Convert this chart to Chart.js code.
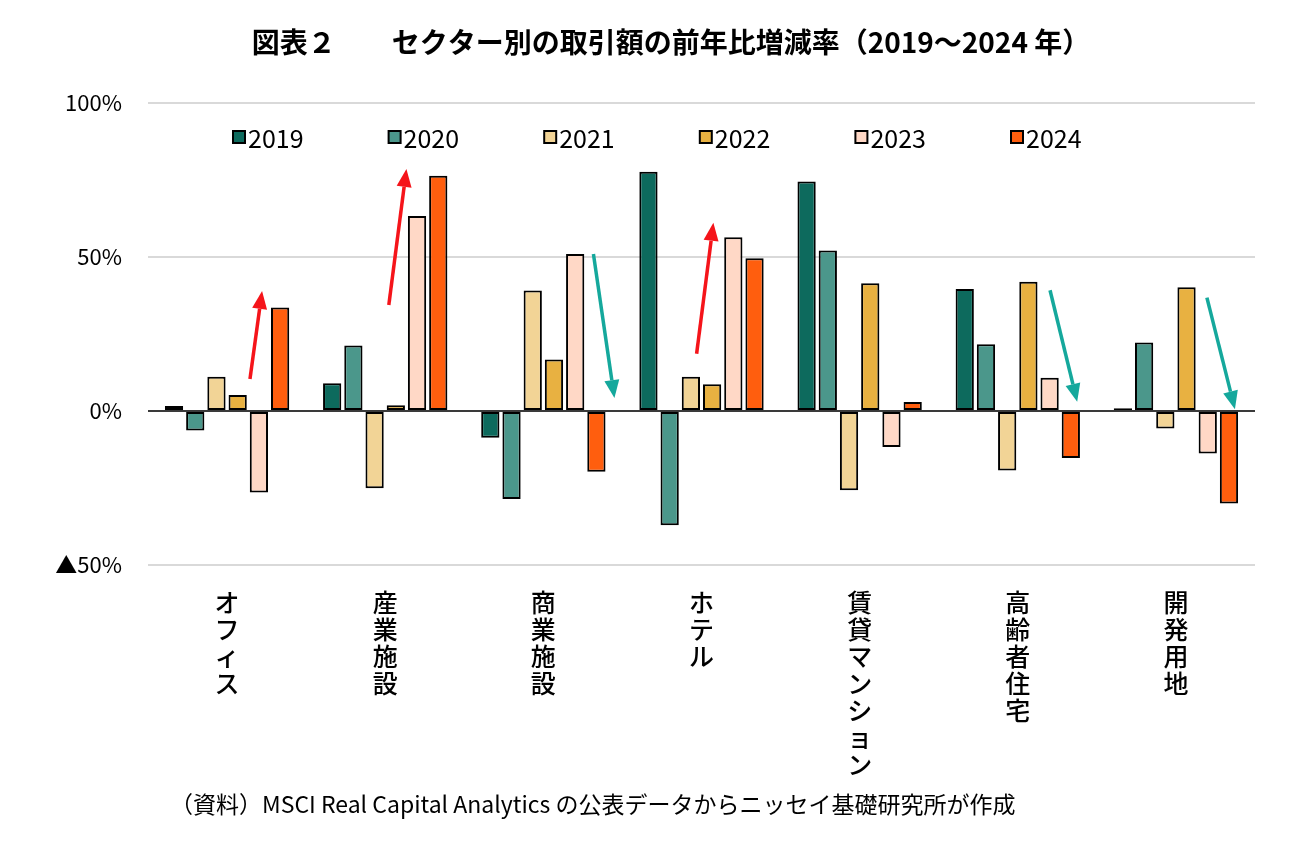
<!DOCTYPE html>
<html>
<head>
<meta charset="utf-8">
<script src="https://cdn.jsdelivr.net/npm/chart.js@4.4.1/dist/chart.umd.min.js"></script>
<style>
  html, body { margin: 0; padding: 0; background: #fff; }
  #wrap { width: 1313px; height: 848px; }
</style>
</head>
<body>
<div id="wrap"><canvas id="mycanvas" width="1313" height="848"></canvas></div>
<script>
// categories (stacked vertically under the axis)
var sectors = ['オフィス', '産業施設', '商業施設', 'ホテル', '賃貸マンション', '高齢者住宅', '開発用地'];
var years = ['2019', '2020', '2021', '2022', '2023', '2024'];

// year-on-year change of transaction volume, %
var y2019 = [1.6, 9.0, -8.7, 77.7, 74.5, 39.6, 0.9];
var y2020 = [-6.3, 21.3, -28.6, -37.1, 52.1, 21.7, 22.2];
var y2021 = [11.1, -25.1, 39.1, 11.1, -25.7, -19.3, -5.7];
var y2022 = [5.2, 1.9, 16.7, 8.7, 41.5, 42.0, 40.2];
var y2023 = [-26.5, 63.3, 51.0, 56.4, -11.7, 10.8, -13.8];
var y2024 = [33.6, 76.4, -19.7, 49.6, 2.9, -15.3, -30.0];

var yTicks = [-50, 0, 50, 100];

// trend arrows: category, start/end offset in bar slots from group centre, start/end value
var arrowCat = [0, 1, 2, 3, 5, 6];
var arrowFromSlot = [1.08, 0.17, 2.36, -0.23, 1.52, 1.46];
var arrowToSlot = [1.65, 1.0, 3.35, 0.56, 2.8, 2.78];
var arrowFromVal = [10.4, 34.4, 51.0, 18.6, 39.2, 36.8];
var arrowToVal = [39.0, 78.6, 4.2, 61.1, 3.0, 0.6];
var arrowUp = [true, true, false, true, false, false];

var colors = ['#0d6a5d', '#4b978b', '#f2d496', '#e8b141', '#ffd8c6', '#ff5e0e'];
var seriesData = [y2019, y2020, y2021, y2022, y2023, y2024];
var FONT = '"Noto Sans CJK JP", "Noto Sans", sans-serif';

var datasets = [];
for (var i = 0; i < years.length; i++) {
  datasets.push({
    label: years[i],
    data: seriesData[i],
    backgroundColor: colors[i],
    borderColor: '#000',
    borderWidth: 2,
    borderSkipped: false,
    categoryPercentage: 0.805,
    barPercentage: 0.86
  });
}

var titlePlugin = {
  id: 'pageTitle',
  afterDraw: function(chart) {
    var ctx = chart.ctx;
    ctx.save();
    ctx.font = 'bold 28px ' + FONT;
    ctx.fillStyle = '#000';
    ctx.textAlign = 'center';
    ctx.textBaseline = 'middle';
    ctx.fillText('図表２　　セクター別の取引額の前年比増減率（2019～2024 年）', 671, 42);
    ctx.restore();
  }
};

var legendPlugin = {
  id: 'insideLegend',
  afterDraw: function(chart) {
    var ctx = chart.ctx, area = chart.chartArea;
    var y = area.top + 34;
    ctx.save();
    ctx.font = '25px ' + FONT;
    ctx.textBaseline = 'middle';
    ctx.textAlign = 'left';
    chart.data.datasets.forEach(function(ds, i) {
      var x = area.left + 84 + i * 155.6;
      ctx.fillStyle = '#000';
      ctx.fillRect(x, y - 7, 14, 14);
      ctx.fillStyle = ds.backgroundColor;
      ctx.fillRect(x + 2, y - 5, 10, 10);
      ctx.fillStyle = '#000';
      ctx.fillText(ds.label, x + 16, y + 1);
    });
    ctx.restore();
  }
};

var arrowPlugin = {
  id: 'trendArrows',
  afterDatasetsDraw: function(chart) {
    var ctx = chart.ctx, ys = chart.scales.y;
    var m0 = chart.getDatasetMeta(0), m1 = chart.getDatasetMeta(1), m5 = chart.getDatasetMeta(5);
    ctx.save();
    for (var i = 0; i < arrowCat.length; i++) {
      var c = arrowCat[i];
      var slot = m1.data[c].x - m0.data[c].x;
      var mid = (m0.data[c].x + m5.data[c].x) / 2;
      var x0 = mid + arrowFromSlot[i] * slot, y0 = ys.getPixelForValue(arrowFromVal[i]);
      var x1 = mid + arrowToSlot[i] * slot, y1 = ys.getPixelForValue(arrowToVal[i]);
      var col = arrowUp[i] ? '#f5141a' : '#15a89c';
      var ang = Math.atan2(y1 - y0, x1 - x0);
      var head = 18, half = 7.5;
      var bx = x1 - head * Math.cos(ang), by = y1 - head * Math.sin(ang);
      ctx.strokeStyle = col;
      ctx.fillStyle = col;
      ctx.lineWidth = 3.5;
      ctx.beginPath();
      ctx.moveTo(x0, y0);
      ctx.lineTo(bx, by);
      ctx.stroke();
      ctx.beginPath();
      ctx.moveTo(x1, y1);
      ctx.lineTo(bx + half * Math.sin(ang), by - half * Math.cos(ang));
      ctx.lineTo(bx - half * Math.sin(ang), by + half * Math.cos(ang));
      ctx.closePath();
      ctx.fill();
    }
    ctx.restore();
  }
};

var notePlugin = {
  id: 'sourceNote',
  afterDraw: function(chart) {
    var ctx = chart.ctx;
    ctx.save();
    ctx.font = '23px ' + FONT;
    ctx.fillStyle = '#000';
    ctx.textAlign = 'left';
    ctx.textBaseline = 'middle';
    ctx.fillText('（資料）MSCI Real Capital Analytics の公表データからニッセイ基礎研究所が作成', 170, 804);
    ctx.restore();
  }
};

var ctx = document.getElementById('mycanvas');
var barChart = new Chart(ctx, {
  type: 'bar',
  data: {
    labels: sectors.map(function(s) { return s.split(''); }),
    datasets: datasets
  },
  plugins: [titlePlugin, legendPlugin, arrowPlugin, notePlugin],
  options: {
    responsive: false,
    animation: false,
    layout: { padding: { left: 0, right: 58, top: 103, bottom: 0 } },
    plugins: {
      legend: { display: false },
      tooltip: { enabled: false },
      title: { display: false }
    },
    scales: {
      x: {
        grid: { display: false },
        border: { display: false },
        ticks: {
          color: '#000',
          autoSkip: false,
          maxRotation: 0,
          padding: 16,
          font: { family: FONT, size: 25, weight: '500', lineHeight: '27px' }
        },
        afterFit: function(scale) { scale.height = 283; }
      },
      y: {
        min: -50,
        max: 100,
        border: { display: false },
        grid: {
          drawTicks: false,
          lineWidth: 2,
          color: function(c) { return c.tick && c.tick.value === 0 ? '#3a3a3a' : '#d9d9d9'; }
        },
        afterBuildTicks: function(scale) {
          scale.ticks = yTicks.map(function(v) { return { value: v }; });
        },
        ticks: {
          color: '#000',
          padding: 26,
          font: { family: FONT, size: 22 },
          callback: function(v) { return v < 0 ? '▲' + (-v) + '%' : v + '%'; }
        },
        afterFit: function(scale) { scale.width = 148; }
      }
    }
  }
});
</script>
</body>
</html>
